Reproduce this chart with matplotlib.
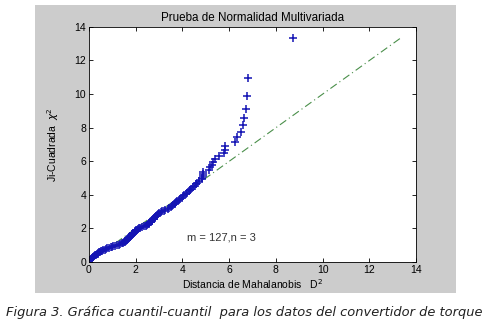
import numpy as np
import matplotlib
matplotlib.use("Agg")
import matplotlib.pyplot as plt
from matplotlib.patches import Rectangle

# ordered Mahalanobis distances D^2 (x) and chi-square quantiles (y)
d2 = [0.02, 0.05, 0.10, 0.12, 0.16, 0.19, 0.22, 0.27, 0.30, 0.34,
      0.37, 0.40, 0.44, 0.48, 0.52, 0.57, 0.62, 0.67, 0.72, 0.78,
      0.86, 0.93, 0.98, 1.03, 1.10, 1.19, 1.27, 1.34, 1.40, 1.45,
      1.49, 1.53, 1.56, 1.59, 1.61, 1.63, 1.65, 1.68, 1.70, 1.73,
      1.75, 1.77, 1.80, 1.83, 1.86, 1.88, 1.90, 1.93, 1.95, 1.98,
      2.00, 2.02, 2.05, 2.08, 2.12, 2.17, 2.26, 2.36, 2.43, 2.48,
      2.52, 2.55, 2.58, 2.62, 2.65, 2.68, 2.71, 2.74, 2.77, 2.80,
      2.83, 2.86, 2.89, 2.92, 2.96, 3.01, 3.07, 3.12, 3.20, 3.27,
      3.36, 3.43, 3.50, 3.55, 3.60, 3.66, 3.70, 3.74, 3.78, 3.84,
      3.90, 3.96, 4.02, 4.08, 4.14, 4.20, 4.26, 4.32, 4.38, 4.45,
      4.52, 4.57, 4.62, 4.72, 4.82, 4.85, 4.87, 4.88, 4.89, 5.12,
      5.18, 5.25, 5.31, 5.38, 5.55, 5.79, 5.82, 5.82, 6.25, 6.32,
      6.51, 6.61, 6.62, 6.72, 6.76, 6.79, 8.75]

chi2q = [0.061, 0.129, 0.183, 0.231, 0.276, 0.318, 0.358, 0.397, 0.434, 0.471,
         0.507, 0.543, 0.578, 0.612, 0.646, 0.680, 0.713, 0.747, 0.780, 0.812,
         0.845, 0.878, 0.910, 0.943, 0.975, 1.008, 1.041, 1.074, 1.106, 1.139,
         1.172, 1.204, 1.237, 1.270, 1.303, 1.337, 1.371, 1.404, 1.439, 1.473,
         1.505, 1.539, 1.574, 1.608, 1.643, 1.678, 1.714, 1.750, 1.786, 1.822,
         1.859, 1.896, 1.934, 1.972, 2.007, 2.045, 2.084, 2.122, 2.161, 2.202,
         2.243, 2.283, 2.324, 2.366, 2.408, 2.450, 2.494, 2.538, 2.582, 2.627,
         2.673, 2.719, 2.769, 2.815, 2.863, 2.912, 2.961, 3.012, 3.063, 3.117,
         3.171, 3.228, 3.282, 3.338, 3.395, 3.454, 3.514, 3.576, 3.639, 3.704,
         3.770, 3.838, 3.907, 3.979, 4.052, 4.127, 4.205, 4.284, 4.368, 4.453,
         4.541, 4.632, 4.727, 4.825, 4.927, 5.034, 5.143, 5.262, 5.385, 5.510,
         5.650, 5.790, 5.947, 6.110, 6.285, 6.475, 6.682, 6.910, 7.161, 7.441,
         7.761, 8.133, 8.579, 9.135, 9.874, 10.985, 13.35]

ticks = [0, 2, 4, 6, 8, 10, 12, 14]
m_obs, n_vars = 127, 3

fig = plt.figure(figsize=(4.89, 3.28), dpi=100)
fig.patch.set_facecolor("white")

# grey matlab figure panel behind the axes
fig.patches.append(Rectangle((0.0716, 0.107), 0.861, 0.878, transform=fig.transFigure,
                             facecolor="#cccccc", edgecolor="none", zorder=-10))

ax = fig.add_axes([0.182, 0.201, 0.669, 0.717])
ax.set_zorder(1)
ax.set_facecolor("white")

lo, hi = min(chi2q), max(chi2q)
ax.plot([lo, hi], [lo, hi], linestyle=(0, (7, 3, 1, 3)), color="#4a8f4a", lw=0.8)
ax.plot(d2, chi2q, linestyle="none", marker="+", color="#1414b4", ms=5.5, mew=1.1)

ax.set_xlim(0, 14)
ax.set_ylim(0, 14)
ax.set_xticks(ticks)
ax.set_yticks(ticks)
ax.tick_params(direction="in", top=True, right=True, length=3, width=0.6,
               labelsize=7.5, pad=2, colors="black")
for s in ax.spines.values():
    s.set_linewidth(0.6)

font = "Liberation Sans"
for lab in ax.get_xticklabels() + ax.get_yticklabels():
    lab.set_fontfamily(font)

ax.set_title("Prueba de Normalidad Multivariada", fontsize=8.4, family=font, pad=4)
ax.set_xlabel("Distancia de Mahalanobis   D$^2$", fontsize=7.5, family=font, labelpad=2)
ax.set_ylabel("Ji-Cuadrada  $\\chi^2$", fontsize=7.5, family=font, labelpad=10)
ax.text(4.18, 1.45, f"m = {m_obs},n = {n_vars}", fontsize=8, family=font,
        color="#333333", va="center")

fig.text(0.5, 0.048, "Figura 3. Gráfica cuantil-cuantil  para los datos del convertidor de torque",
         ha="center", va="center", fontsize=9.4, style="italic", color="#222222",
         family="DejaVu Sans")

fig.savefig("out.png", dpi=100)
